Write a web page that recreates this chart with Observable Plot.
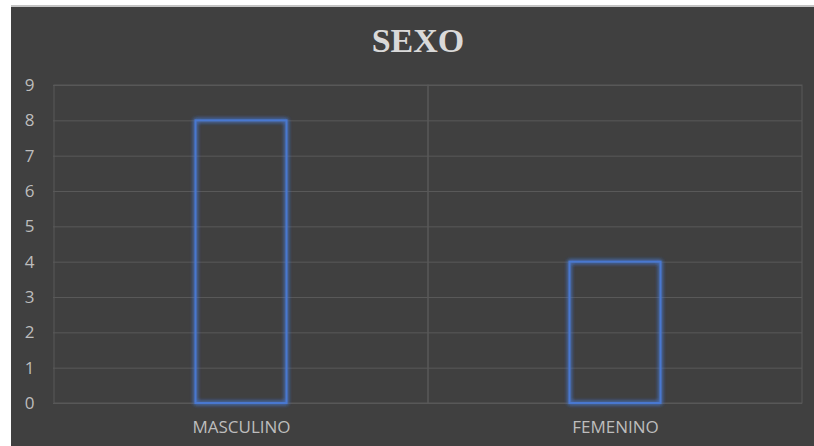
<!DOCTYPE html>
<html>
<head>
<meta charset="utf-8">
<script src="https://cdn.jsdelivr.net/npm/d3@7"></script>
<script src="https://cdn.jsdelivr.net/npm/@observablehq/plot@0.6"></script>
<style>
  html, body { margin: 0; padding: 0; background: #ffffff; width: 814px; height: 446px; overflow: hidden; }
  #card { position: absolute; left: 11px; top: 5px; width: 803px; height: 441px; background: #404040;
          border-top: 2px solid #c4c4c4; box-sizing: border-box; }
  #title { position: absolute; left: 0; top: 17px; width: 814px; text-align: center;
           font-family: "Liberation Serif", "DejaVu Serif", serif; font-weight: bold; font-size: 34px;
           line-height: 34px; color: #d9d9d9; }
  #chart { position: absolute; left: 0; top: 57px; }
</style>
</head>
<body>
<div id="card">
  <div id="title">SEXO</div>
  <div id="chart"></div>
</div>
<script>
const categories = ["MASCULINO", "FEMENINO"];
const values = [8, 4];
const yTicks = [0, 1, 2, 3, 4, 5, 6, 7, 8, 9];

const data = categories.map((c, i) => ({ sexo: c, valor: values[i] }));

const plot = Plot.plot({
  width: 803,
  height: 382,
  marginLeft: 42,
  marginRight: 12,
  marginTop: 21,
  marginBottom: 43,
  style: { background: "transparent", color: "#bdbdbd", fontFamily: "'Open Sans', sans-serif", fontSize: "17px", overflow: "visible" },
  x: { domain: categories, padding: 0, label: null, tickSize: 0, tickPadding: 17 },
  y: { domain: [0, 9], ticks: yTicks, label: null, tickSize: 0, tickPadding: 19 },
  marks: [
    Plot.ruleY(yTicks, { stroke: "#595959", strokeWidth: 1 }),
    Plot.barY(categories, { x: d => d, y1: 0, y2: 9, fill: "none", stroke: "#595959", strokeWidth: 1 }),
    Plot.barY(data, { x: "sexo", y: "valor", fill: "none", stroke: "#4a78d0", strokeWidth: 2,
                      insetLeft: 141.5, insetRight: 141.5, className: "bars" })
  ]
});

document.getElementById("chart").appendChild(plot);

// soft glow around bars
const svg = d3.select(plot);
const defs = svg.insert("defs", ":first-child");
const f = defs.append("filter").attr("id", "glow").attr("x", "-20%").attr("y", "-20%").attr("width", "140%").attr("height", "140%");
f.append("feGaussianBlur").attr("in", "SourceGraphic").attr("stdDeviation", 2.2).attr("result", "blur");
const m = f.append("feMerge");
m.append("feMergeNode").attr("in", "blur");
m.append("feMergeNode").attr("in", "blur");
m.append("feMergeNode").attr("in", "SourceGraphic");
svg.selectAll(".bars").attr("filter", "url(#glow)");
</script>
</body>
</html>
